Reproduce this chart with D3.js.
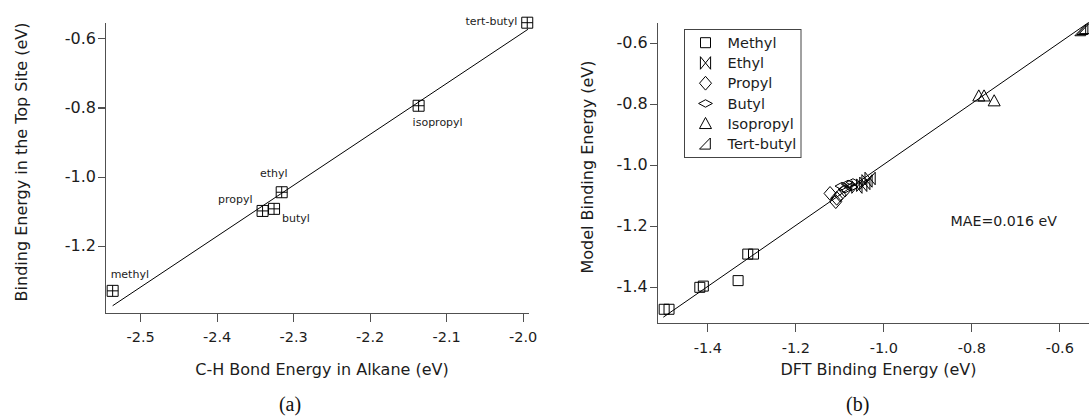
<!DOCTYPE html>
<html>
<head>
<meta charset="utf-8">
<script src="https://cdn.jsdelivr.net/npm/d3@7"></script>
<style>
  html, body { margin: 0; padding: 0; background: #fff; }
  svg { display: block; }
  text { font-family: "DejaVu Sans", sans-serif; fill: #1c1c1c; }
  .axis path, .axis line { stroke: #505050; stroke-width: 1.1; shape-rendering: crispEdges; }
  .caption { font-family: "Liberation Serif", serif; fill: #111; }
</style>
</head>
<body>
<svg id="chart" width="1089" height="417"></svg>
<script>
// ---------- Panel (a): C-H bond energy vs. top-site binding energy ----------
const radicalsA = ["methyl", "propyl", "butyl", "ethyl", "isopropyl", "tert-butyl"];
const bondEnergyA = [-2.536, -2.340, -2.325, -2.315, -2.136, -1.994];
const bindingEnergyA = [-1.330, -1.099, -1.093, -1.045, -0.795, -0.555];
const fitLineAX = [-2.536, -1.993];
const fitLineAY = [-1.373, -0.574];
const xTicksA = [-2.5, -2.4, -2.3, -2.2, -2.1, -2.0];
const xTickLabelsA = ["-2.5", "-2.4", "-2.3", "-2.2", "-2.1", "-2.0"];
const yTicksA = [-1.2, -1.0, -0.8, -0.6];
const yTickLabelsA = ["-1.2", "-1.0", "-0.8", "-0.6"];

// ---------- Panel (b): model vs. DFT binding energies ----------
const methylDFT   = [-1.498, -1.487, -1.417, -1.409, -1.330, -1.308, -1.295];
const methylModel = [-1.474, -1.474, -1.402, -1.398, -1.380, -1.293, -1.293];
const ethylDFT    = [-1.030, -1.037, -1.042, -1.049, -1.060];
const ethylModel  = [-1.045, -1.053, -1.061, -1.067, -1.073];
const propylDFT   = [-1.121, -1.106, -1.108, -1.098, -1.087];
const propylModel = [-1.094, -1.110, -1.121, -1.099, -1.083];
const butylDFT    = [-1.094, -1.080, -1.069, -1.087, -1.073];
const butylModel  = [-1.070, -1.063, -1.058, -1.080, -1.073];
const isopropylDFT   = [-0.783, -0.771, -0.748];
const isopropylModel = [-0.775, -0.775, -0.791];
const tertbutylDFT   = [-0.551, -0.546, -0.541];
const tertbutylModel = [-0.560, -0.556, -0.553];
const parityLine = [-1.500, -0.533];
const xTicksB = [-1.4, -1.2, -1.0, -0.8, -0.6];
const xTickLabelsB = ["-1.4", "-1.2", "-1.0", "-0.8", "-0.6"];
const yTicksB = [-1.4, -1.2, -1.0, -0.8, -0.6];
const yTickLabelsB = ["-1.4", "-1.2", "-1.0", "-0.8", "-0.6"];
const seriesNamesB = ["Methyl", "Ethyl", "Propyl", "Butyl", "Isopropyl", "Tert-butyl"];
const maeLabel = "MAE=0.016 eV";

// ---------- marker shapes (custom d3.symbol types, size = half extent in px) ----------
const shapes = {
  squarePlus: { draw(c, s) { c.rect(-s, -s, 2 * s, 2 * s); c.moveTo(0, -s); c.lineTo(0, s); c.moveTo(-s, 0); c.lineTo(s, 0); } },
  square:     { draw(c, s) { c.rect(-s, -s, 2 * s, 2 * s); } },
  bowtie:     { draw(c, s) { const w = s * 0.85, h = s * 1.05;
                  c.moveTo(-w, -h); c.lineTo(-w, h); c.lineTo(w, -h); c.lineTo(w, h); c.closePath(); } },
  diamond:    { draw(c, s) { const w = s, h = s * 1.15;
                  c.moveTo(0, -h); c.lineTo(w, 0); c.lineTo(0, h); c.lineTo(-w, 0); c.closePath(); } },
  flatDiamond:{ draw(c, s) { const w = s * 1.15, h = s * 0.62;
                  c.moveTo(0, -h); c.lineTo(w, 0); c.lineTo(0, h); c.lineTo(-w, 0); c.closePath(); } },
  triangle:   { draw(c, s) { c.moveTo(0, -s * 1.05); c.lineTo(s, s * 0.8); c.lineTo(-s, s * 0.8); c.closePath(); } },
  rightTri:   { draw(c, s) { c.moveTo(-s, s * 0.85); c.lineTo(s * 0.8, s * 0.85); c.lineTo(s * 0.8, -s); c.closePath(); } }
};
const sym = (type, size) => d3.symbol().type(type).size(size)();

const svg = d3.select("#chart");

// ================= Panel (a) =================
const xA = d3.scaleLinear().domain([-2.546, -1.993]).range([105, 528]);
const yA = d3.scaleLinear().domain([-1.394, -0.555]).range([313, 22.7]);
const gA = svg.append("g");

gA.append("g").attr("class", "axis").attr("transform", "translate(0,313)")
  .call(d3.axisBottom(xA).tickValues(xTicksA).tickFormat((d, i) => xTickLabelsA[i])
        .tickSizeInner(9).tickSizeOuter(0).tickPadding(10))
  .call(g => g.selectAll("text").attr("font-size", 14.5).attr("fill", "#1c1c1c"));
gA.append("g").attr("class", "axis").attr("transform", "translate(105,0)")
  .call(d3.axisLeft(yA).tickValues(yTicksA).tickFormat((d, i) => yTickLabelsA[i])
        .tickSizeInner(7).tickSizeOuter(0).tickPadding(2))
  .call(g => g.selectAll("text").attr("font-size", 16).attr("fill", "#1c1c1c"));
gA.selectAll(".axis text").attr("font-family", "DejaVu Sans, sans-serif");

gA.append("line")
  .attr("x1", xA(fitLineAX[0])).attr("y1", yA(fitLineAY[0]))
  .attr("x2", xA(fitLineAX[1])).attr("y2", yA(fitLineAY[1]))
  .attr("stroke", "#000").attr("stroke-width", 1);

gA.selectAll("path.ptA").data(radicalsA).join("path")
  .attr("class", "ptA")
  .attr("transform", (d, i) => `translate(${xA(bondEnergyA[i])},${yA(bindingEnergyA[i])})`)
  .attr("d", sym(shapes.squarePlus, 5.5))
  .attr("fill", "none").attr("stroke", "#000").attr("stroke-width", 1);

// label placement relative to each marker
const labelOffsetA = {
  "methyl":     { dx: -2,  dy: -13, anchor: "start" },
  "propyl":     { dx: -10, dy: -8,  anchor: "end" },
  "butyl":      { dx: 8,   dy: 13,  anchor: "start" },
  "ethyl":      { dx: -8,  dy: -15, anchor: "middle" },
  "isopropyl":  { dx: -6,  dy: 20,  anchor: "start" },
  "tert-butyl": { dx: -10, dy: 2,   anchor: "end" }
};
gA.selectAll("text.lblA").data(radicalsA).join("text")
  .attr("class", "lblA")
  .attr("x", (d, i) => xA(bondEnergyA[i]) + labelOffsetA[d].dx)
  .attr("y", (d, i) => yA(bindingEnergyA[i]) + labelOffsetA[d].dy)
  .attr("text-anchor", d => labelOffsetA[d].anchor)
  .attr("font-size", 11)
  .text(d => d);

gA.append("text").attr("transform", "translate(26.5,162) rotate(-90)")
  .attr("text-anchor", "middle").attr("font-size", 16)
  .text("Binding Energy in the Top Site (eV)");
gA.append("text").attr("x", 322).attr("y", 375)
  .attr("text-anchor", "middle").attr("font-size", 16)
  .text("C-H Bond Energy in Alkane (eV)");
gA.append("text").attr("class", "caption").attr("x", 290).attr("y", 411)
  .attr("text-anchor", "middle").attr("font-size", 20).text("(a)");

// ================= Panel (b) =================
const xB = d3.scaleLinear().domain([-1.515, -0.5325]).range([656.7, 1089]);
const yB = d3.scaleLinear().domain([-1.52, -0.534]).range([323.3, 22.7]);
const gB = svg.append("g");

gB.append("g").attr("class", "axis").attr("transform", "translate(0,323.3)")
  .call(d3.axisBottom(xB).tickValues(xTicksB).tickFormat((d, i) => xTickLabelsB[i])
        .tickSizeInner(9).tickSizeOuter(0).tickPadding(10))
  .call(g => g.selectAll("text").attr("font-size", 14.5).attr("fill", "#1c1c1c"));
gB.append("g").attr("class", "axis").attr("transform", "translate(656.7,0)")
  .call(d3.axisLeft(yB).tickValues(yTicksB).tickFormat((d, i) => yTickLabelsB[i])
        .tickSizeInner(7).tickSizeOuter(0).tickPadding(2))
  .call(g => g.selectAll("text").attr("font-size", 16).attr("fill", "#1c1c1c"));
gB.selectAll(".axis text").attr("font-family", "DejaVu Sans, sans-serif");

gB.append("line")
  .attr("x1", xB(parityLine[0])).attr("y1", yB(parityLine[0]))
  .attr("x2", xB(parityLine[1])).attr("y2", yB(parityLine[1]))
  .attr("stroke", "#000").attr("stroke-width", 1);

const seriesB = [
  { name: seriesNamesB[0], xs: methylDFT,    ys: methylModel,    shape: shapes.square,      size: 5 },
  { name: seriesNamesB[1], xs: ethylDFT,     ys: ethylModel,     shape: shapes.bowtie,      size: 6 },
  { name: seriesNamesB[2], xs: propylDFT,    ys: propylModel,    shape: shapes.diamond,     size: 6 },
  { name: seriesNamesB[3], xs: butylDFT,     ys: butylModel,     shape: shapes.flatDiamond, size: 6 },
  { name: seriesNamesB[4], xs: isopropylDFT, ys: isopropylModel, shape: shapes.triangle,    size: 6 },
  { name: seriesNamesB[5], xs: tertbutylDFT, ys: tertbutylModel, shape: shapes.rightTri,    size: 6 }
];

const plotB = gB.append("g");
seriesB.forEach(s => {
  plotB.selectAll(null).data(s.xs).join("path")
    .attr("transform", (d, i) => `translate(${xB(d)},${yB(s.ys[i])})`)
    .attr("d", sym(s.shape, s.size))
    .attr("fill", "none").attr("stroke", "#000").attr("stroke-width", 1);
});

// legend
const legend = gB.append("g").attr("transform", "translate(684.5,29.5)");
legend.append("rect").attr("width", 116.5).attr("height", 128)
  .attr("fill", "#fff").attr("stroke", "#444").attr("stroke-width", 1);
const legendRow = d3.scaleLinear().domain([0, 5]).range([13.2, 114.5]);
seriesB.forEach((s, i) => {
  legend.append("path")
    .attr("transform", `translate(21,${legendRow(i)})`)
    .attr("d", sym(s.shape, s.size))
    .attr("fill", "none").attr("stroke", "#000").attr("stroke-width", 1);
  legend.append("text").attr("x", 43).attr("y", legendRow(i)).attr("dy", "0.36em")
    .attr("font-size", 14.5).text(s.name);
});

gB.append("text").attr("x", 950.5).attr("y", 226).attr("font-size", 14.2).text(maeLabel);

gB.append("text").attr("transform", "translate(593,167) rotate(-90)")
  .attr("text-anchor", "middle").attr("font-size", 16)
  .text("Model Binding Energy (eV)");
gB.append("text").attr("x", 878.5).attr("y", 374.5)
  .attr("text-anchor", "middle").attr("font-size", 16)
  .text("DFT Binding Energy (eV)");
gB.append("text").attr("class", "caption").attr("x", 857.7).attr("y", 411)
  .attr("text-anchor", "middle").attr("font-size", 20).text("(b)");
</script>
</body>
</html>
